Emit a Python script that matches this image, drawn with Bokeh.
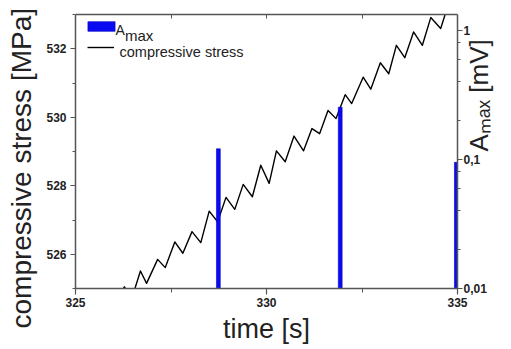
import math

from bokeh.embed import file_html
from bokeh.models import (FixedTicker, Label, Legend, LegendItem, LinearAxis,
                          LogAxis, LogScale, LogTicker, Range1d,
                          SingleIntervalTicker, Title)
from bokeh.plotting import figure
from bokeh.resources import INLINE

# compressive stress trace (time in s, stress in MPa)
time_s = [326.20, 326.28, 326.36, 326.55, 326.70, 326.86, 327.15, 327.35,
          327.60, 327.81, 328.05, 328.28, 328.50, 328.72, 328.94, 329.17,
          329.39, 329.63, 329.85, 330.07, 330.26, 330.49, 330.72, 330.97,
          331.19, 331.39, 331.61, 331.82, 332.06, 332.23, 332.53, 332.73,
          332.98, 333.20, 333.40, 333.62, 333.85, 334.08, 334.30, 334.56,
          334.71]
stress_mpa = [524.90, 525.05, 524.90, 524.98, 525.51, 525.15, 525.85, 525.61,
              526.36, 526.03, 526.66, 526.34, 527.26, 526.95, 527.66, 527.31,
              528.04, 527.68, 528.60, 528.07, 529.02, 528.70, 529.45, 529.02,
              529.67, 529.52, 530.20, 529.96, 530.66, 530.40, 531.17, 530.82,
              531.59, 531.27, 532.10, 531.74, 532.49, 532.10, 532.91, 532.59,
              533.12]

# acoustic emission pulses: time in s, maximum amplitude in mV
pulse_time_s = [328.74, 331.93, 334.97]
pulse_amax_mv = [0.121, 0.254, 0.095]

# mirrored tick marks along the top edge
top_tick_s = [327.5, 330, 332.5]

X0, X1 = 325, 335
Y0, Y1 = 525, 533
A0, A1 = 0.01, 1.33

FONT = "Liberation Sans"
AXIS_GREY = "#555555"
TEXT = "#222222"

p = figure(width=511, height=349, output_backend="svg", toolbar_location=None,
           x_range=Range1d(X0, X1), y_range=Range1d(Y0, Y1),
           x_axis_location=None, y_axis_location=None,
           min_border_left=73, min_border_right=54,
           min_border_top=14, min_border_bottom=61)
p.outline_line_color = None
p.grid.visible = False
p.background_fill_color = "white"
p.border_fill_color = "white"
p.extra_y_ranges = {"amp": Range1d(A0, A1)}
p.extra_y_scales = {"amp": LogScale()}


def style_axis(ax):
    ax.axis_line_color = AXIS_GREY
    ax.axis_line_width = 1.5
    ax.major_tick_line_color = AXIS_GREY
    ax.minor_tick_line_color = AXIS_GREY
    ax.major_tick_line_width = 1.2
    ax.minor_tick_line_width = 1.0
    ax.major_label_text_font = FONT
    ax.major_label_text_font_style = "bold"
    ax.major_label_text_font_size = "12px"
    ax.major_label_text_color = TEXT


# left: stress
left = LinearAxis(ticker=SingleIntervalTicker(interval=2, num_minor_ticks=2))
style_axis(left)
left.major_tick_out, left.major_tick_in = 5, 0
left.minor_tick_out, left.minor_tick_in = 3, 0
left.major_label_standoff = 4
p.add_layout(left, "left")
p.add_layout(Title(text="compressive stress [MPa]", align="left", offset=-40,
                   standoff=10, vertical_align="top", text_font=FONT,
                   text_font_size="28px", text_font_style="normal",
                   text_color=TEXT), "left")

# bottom: time
bottom = LinearAxis(ticker=SingleIntervalTicker(interval=5, num_minor_ticks=2),
                    axis_label="time [s]")
style_axis(bottom)
bottom.major_tick_out, bottom.major_tick_in = 6, 0
bottom.minor_tick_out, bottom.minor_tick_in = 4, 0
bottom.major_label_standoff = 3
bottom.axis_label_text_font = FONT
bottom.axis_label_text_font_style = "normal"
bottom.axis_label_text_font_size = "27px"
bottom.axis_label_text_color = TEXT
bottom.axis_label_standoff = 4
p.add_layout(bottom, "below")

# top: inward tick marks only
top = LinearAxis(ticker=FixedTicker(ticks=[], minor_ticks=top_tick_s))
style_axis(top)
top.major_tick_out, top.major_tick_in = 0, 0
top.minor_tick_out, top.minor_tick_in = 0, 4
p.add_layout(top, "above")

# right: amplitude (log), title A_max [mV] reading upwards
right = LogAxis(y_range_name="amp", ticker=LogTicker(mantissas=[1]),
                axis_label="A\u2098\u2090\u2093 [mV]")
style_axis(right)
right.major_tick_out, right.major_tick_in = 5, 0
right.minor_tick_out, right.minor_tick_in = 3, 0
right.major_label_standoff = 1
right.major_label_overrides = {0.01: "0,01", 0.1: "0,1", 1: "1"}
right.axis_label_text_font = FONT
right.axis_label_text_font_style = "normal"
right.axis_label_text_font_size = "26px"
right.axis_label_text_color = TEXT
right.axis_label_standoff = -11
right.axis_label_orientation = math.pi / 2
p.add_layout(right, "right")

r_line = p.line(time_s, stress_mpa, line_color="black", line_width=1.4,
                line_join="round")
r_bar = p.vbar(x=pulse_time_s, top=pulse_amax_mv, bottom=A0, width=0.1,
               y_range_name="amp", fill_color="#0a0af2", line_color="#0000c0",
               line_width=0.6)

# legend swatches (texts are placed as labels next to them)
swatch = dict(padding=0, margin=0, border_line_color=None,
              background_fill_alpha=0, label_text_font_size="1px",
              label_standoff=0, spacing=0)
leg_bar = Legend(items=[LegendItem(label=" ", renderers=[r_bar])],
                 location=(8.5, 256.5), glyph_width=34, glyph_height=12,
                 label_height=12, **swatch)
leg_line = Legend(items=[LegendItem(label=" ", renderers=[r_line])],
                  location=(12, 235.5), glyph_width=27, glyph_height=12,
                  label_height=12, **swatch)
p.add_layout(leg_bar, "center")
p.add_layout(leg_line, "center")

txt = dict(x=X0, y=Y1, text_font=FONT, text_color=TEXT, text_align="left",
           text_baseline="alphabetic")
p.add_layout(Label(x_offset=40, y_offset=-15.5, text="A",
                   text_font_size="14px", **txt))
p.add_layout(Label(x_offset=49.5, y_offset=-20.5, text="max",
                   text_font_size="15px", **txt))
p.add_layout(Label(x_offset=44, y_offset=-37, text="compressive stress",
                   text_font_size="14.5px", **txt))

open("out.html", "w").write(file_html(p, INLINE))
